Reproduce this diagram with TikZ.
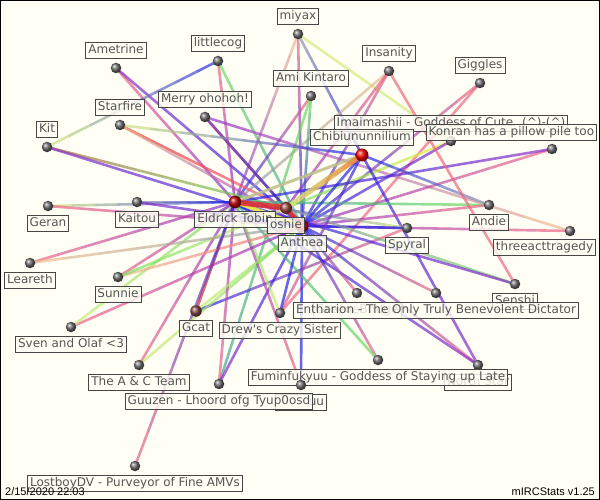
\documentclass[tikz,border=0pt]{standalone}
\usepackage{fontspec}
\setmainfont{DejaVu Sans}
\newfontfamily\stampfont{Liberation Sans}
\usetikzlibrary{positioning,calc}

\definecolor{paper}{RGB}{255,255,245}
\definecolor{tagline}{RGB}{70,70,70}
\definecolor{taglabel}{RGB}{85,85,85}
\definecolor{cpink}{RGB}{240,100,125}
\definecolor{cred}{RGB}{230,40,40}
\definecolor{cpurple}{RGB}{140,40,200}
\definecolor{cblue}{RGB}{30,30,230}
\definecolor{cgreen}{RGB}{110,220,90}
\definecolor{clime}{RGB}{210,235,120}
\definecolor{corange}{RGB}{240,120,40}
\definecolor{cpeach}{RGB}{240,190,140}
\definecolor{cteal}{RGB}{60,160,150}
\definecolor{cbrown}{RGB}{170,100,60}
\definecolor{cgray}{RGB}{140,150,170}
\definecolor{cyellow}{RGB}{240,240,60}
\definecolor{ckhaki}{RGB}{190,190,140}

\pgfdeclarelayer{bg}
\pgfdeclarelayer{links}
\pgfsetlayers{bg,links,main}

\begin{document}
\begin{tikzpicture}[
  x=1pt, y=-1pt,
  node distance=9pt,
  ball/.style={circle, minimum size=10.5pt, inner sep=0pt, shading=ball, ball color=gray!85!black},
  hub/.style={ball, minimum size=13pt, ball color=red},
  tag/.style={rectangle, draw=tagline, line width=0.8pt, fill=paper, fill opacity=0.8, text opacity=1, text=taglabel, inner xsep=2.5pt, inner ysep=1.75pt, text height=9.5pt, text depth=3pt, font=\fontsize{12}{14}\selectfont},
  link/.style={line width=2.6pt, opacity=0.68},
  stamp/.style={font=\stampfont\fontsize{11}{13}\selectfont, text=black, inner sep=0pt}
]
  \useasboundingbox (0,0) rectangle (600,500);

  % top row
  \node[ball] (ametrine) at (116,68) {};
  \node[tag, above=of ametrine.center] (ametrine-t) {Ametrine};
  \node[ball] (littlecog) at (218,61) {};
  \node[tag, above=of littlecog.center] (littlecog-t) {littlecog};
  \node[ball] (miyax) at (298,34) {};
  \node[tag, above=of miyax.center] (miyax-t) {miyax};
  \node[ball] (insanity) at (389,71) {};
  \node[tag, above=of insanity.center] (insanity-t) {Insanity};
  \node[ball] (giggles) at (480,83) {};
  \node[tag, above=of giggles.center] (giggles-t) {Giggles};
  \node[ball] (ami) at (311,96) {};
  \node[tag, above=of ami.center] (ami-t) {Ami Kintaro};
  \node[ball] (merry) at (205,117) {};
  \node[tag, above=of merry.center] (merry-t) {Merry ohohoh!};
  \node[ball] (starfire) at (120,125) {};
  \node[tag, above=of starfire.center] (starfire-t) {Starfire};
  \node[ball] (kit) at (47,147) {};
  \node[tag, above=of kit.center] (kit-t) {Kit};
  \node[ball] (imai) at (451,141) {};
  \node[tag, above=of imai.center] (imai-t) {Imaimashii - Goddess of Cute. (\textasciicircum)-(\textasciicircum)};
  \node[hub] (chibi) at (362,155) {};
  \node[tag, above=of chibi.center] (chibi-t) {Chibiununnilium};
  \node[ball] (konran) at (552,149) {};
  \node[tag, anchor=east] (konran-t) at (597,132) {Konran has a pillow pile too};

  % left and right
  \node[ball] (kaitou) at (137,202) {};
  \node[tag, below=of kaitou.center] (kaitou-t) {Kaitou};
  \node[ball] (geran) at (48,206) {};
  \node[tag, below=of geran.center] (geran-t) {Geran};
  \node[ball] (leareth) at (30,263) {};
  \node[tag, below=of leareth.center] (leareth-t) {Leareth};
  \node[ball] (sunnie) at (118,277) {};
  \node[tag, below=of sunnie.center] (sunnie-t) {Sunnie};
  \node[ball] (sven) at (71,327) {};
  \node[tag, below=of sven.center] (sven-t) {Sven and Olaf <3};
  \node[ball, minimum size=11.5pt, ball color=red!30!gray!80!black] (gcat) at (196,311) {};
  \node[tag, below=of gcat.center] (gcat-t) {Gcat};
  \node[ball] (drew) at (280,313) {};
  \node[tag, below=of drew.center] (drew-t) {Drew\textquotesingle s Crazy Sister};
  \node[ball] (andie) at (489,205) {};
  \node[tag, below=of andie.center] (andie-t) {Andie};
  \node[ball] (three) at (570,231) {};
  \node[tag, anchor=east] (three-t) at (596,247) {threeacttragedy};
  \node[ball] (spyral) at (407,228) {};
  \node[tag, below=of spyral.center] (spyral-t) {Spyral};

  % centre
  \node[hub] (anthea) at (302,226) {};
  \node[tag, below=of anthea.center] (anthea-t) {Anthea};
  \node[hub, minimum size=12.5pt, ball color=red!75!black] (eldrick) at (235,202) {};
  \node[tag, below=of eldrick.center] (eldrick-t) {Eldrick Tobin};
  \node[hub, minimum size=12pt, ball color=red!40!gray!90!black] (oshie) at (286,208) {};
  \node[tag, below=of oshie.center] (oshie-t) {oshie};

  % bottom
  \node[ball] (greene) at (357,293) {};
  \node[tag, below=of greene.center] (greene-t) {GreeneBridge};
  \node[ball] (senshi) at (515,284) {};
  \node[tag, below=of senshi.center] (senshi-t) {Senshi};
  \node[ball] (enth) at (436,293) {};
  \node[tag, below=of enth.center] (enth-t) {Entharion - The Only Truly Benevolent Dictator};
  \node[ball] (acteam) at (139,365) {};
  \node[tag, below=of acteam.center] (acteam-t) {The A \& C Team};
  \node[ball] (north) at (478,365) {};
  \node[tag, below=of north.center] (north-t) {North Star};
  \node[ball] (fumin) at (378,360) {};
  \node[tag, below=of fumin.center] (fumin-t) {Fuminfukyuu - Goddess of Staying up Late};
  \node[ball] (uu) at (301,385) {};
  \node[tag, below=of uu.center, text width=46pt, align=right] (uu-t) {uu};
  \node[ball] (guuzen) at (219,384) {};
  \node[tag, below=of guuzen.center] (guuzen-t) {Guuzen - Lhoord ofg Tyup0osd};
  \node[ball] (lostboy) at (135,466) {};
  \node[tag, below=of lostboy.center] (lostboy-t) {LostboyDV - Purveyor of Fine AMVs};

  \node[stamp, anchor=base west] (date) at (5,495) {2/15/2020 22:03};
  \node[stamp, anchor=base east] (brand) at (595,495) {mIRCStats v1.25};

  \begin{pgfonlayer}{bg}
    \fill[paper] (0,0) rectangle (600,500);
    \draw[black, line width=1pt] (0.5,0.5) rectangle (599.5,499.5);
  \end{pgfonlayer}

  \begin{pgfonlayer}{links}
  % each link fades from one end colour to the other
  \foreach \src/\dst/\csrc/\cdst in {
    ametrine/eldrick/cpink/cpurple, ametrine/anthea/cpurple/cblue,
    littlecog/kit/cblue/clime, littlecog/eldrick/cpink/cpurple, littlecog/anthea/cgreen/cteal,
    miyax/anthea/cpink/cblue, miyax/eldrick/cpeach/cpurple, miyax/chibi/cgray/cblue, miyax/imai/clime/clime,
    insanity/eldrick/cpeach/cgray, insanity/oshie/cpink/cpurple, insanity/anthea/cpink/cblue,
    giggles/drew/cpink/cpink, giggles/anthea/cpink/cblue,
    ami/eldrick/cpink/cblue, ami/guuzen/cgreen/cteal, ami/anthea/cgreen/cblue,
    merry/oshie/cbrown/cbrown, merry/anthea/cpurple/cblue, merry/three/cpurple/cpeach,
    starfire/oshie/cred/cpink, starfire/anthea/cpeach/cpurple, starfire/chibi/clime/cblue,
    kit/oshie/cbrown/cgreen, kit/anthea/cpurple/cblue,
    imai/oshie/cyellow/cgreen, imai/anthea/cpurple/cblue,
    konran/anthea/cpink/cpurple, konran/eldrick/cpurple/cblue,
    andie/chibi/cgray/cblue, north/chibi/cpurple/cblue,
    andie/eldrick/cgreen/cteal, andie/anthea/cpink/cpurple,
    three/anthea/cpink/cpurple,
    spyral/eldrick/clime/cblue, spyral/anthea/cblue/cblue, gcat/spyral/cblue/cpink,
    senshi/oshie/cgreen/cgray, senshi/insanity/cpink/cpink, senshi/eldrick/cpurple/cblue,
    lostboy/eldrick/cpink/cblue,
    acteam/eldrick/cpink/cpurple, acteam/anthea/clime/cgreen,
    guuzen/eldrick/cpink/cpurple, guuzen/anthea/cpurple/cblue,
    uu/eldrick/cpink/cpurple, uu/anthea/cblue/cblue,
    fumin/anthea/cpink/cblue, fumin/eldrick/cgreen/cteal,
    north/anthea/cpink/cblue, north/eldrick/cpurple/cblue,
    greene/anthea/cpink/cblue, enth/anthea/cpink/cblue,
    drew/eldrick/clime/cgreen, drew/chibi/cpink/cblue, drew/anthea/cblue/cblue,
    sven/anthea/cpink/cpurple, sven/eldrick/clime/cgreen,
    sunnie/eldrick/cpink/cpurple, sunnie/anthea/cpeach/cpink, sunnie/oshie/cgreen/clime,
    leareth/eldrick/cpink/cpurple, leareth/anthea/cpeach/cgray,
    geran/eldrick/clime/cblue, geran/anthea/cpink/cpurple,
    kaitou/eldrick/cgray/cblue, kaitou/anthea/cpurple/cblue,
    gcat/eldrick/cred/cblue, gcat/anthea/clime/cgreen,
    chibi/anthea/cblue/cblue}{
    \foreach \i in {0,...,7}{
      \pgfmathsetmacro\segA{\i/8}
      \pgfmathsetmacro\segB{(\i+1)/8}
      \pgfmathtruncatemacro\mixw{100-(\i+0.5)*12.5}
      \draw[link, color=\csrc!\mixw!\cdst] ($(\src)!\segA!(\dst)$) -- ($(\src)!\segB!(\dst)$);
    }
  }
  % heavy links between the busiest people
  \foreach \src/\dst/\csrc/\cdst/\bw in {
    chibi/eldrick/ckhaki/ckhaki/3, eldrick/anthea/cyellow/cyellow/4,
    chibi/oshie/corange/clime/5, eldrick/oshie/cred/cred/5.5, oshie/anthea/cred/cred/5}{
    \foreach \i in {0,...,7}{
      \pgfmathsetmacro\segA{\i/8}
      \pgfmathsetmacro\segB{(\i+1)/8}
      \pgfmathtruncatemacro\mixw{100-(\i+0.5)*12.5}
      \draw[link, line width=\bw pt, opacity=0.85, color=\csrc!\mixw!\cdst] ($(\src)!\segA!(\dst)$) -- ($(\src)!\segB!(\dst)$);
    }
  }
  \end{pgfonlayer}
\end{tikzpicture}
\end{document}
